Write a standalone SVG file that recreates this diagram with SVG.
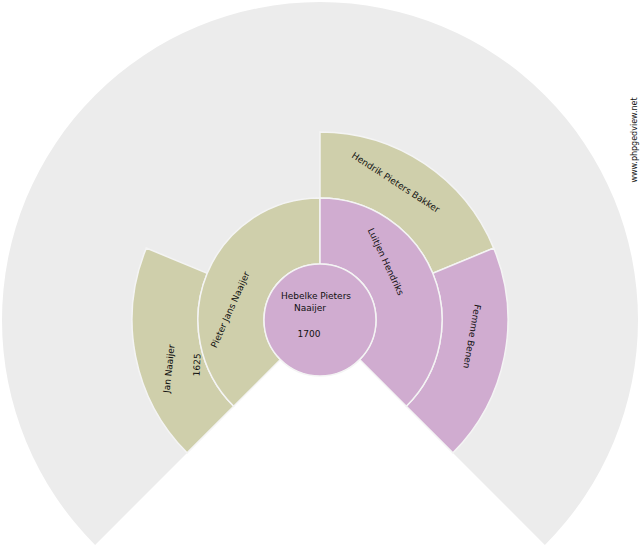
<svg xmlns="http://www.w3.org/2000/svg" width="640" height="550" viewBox="0 0 640 550">
<style>
.g{fill:#ececec}
.k{fill:#cfcfab;stroke:#f4f4f4;stroke-width:1.5}
.p{fill:#d0acd0;stroke:#f4f4f4;stroke-width:1.5}
text{font-family:"DejaVu Sans",sans-serif;font-size:9px;fill:#111;text-anchor:middle}
</style>
<rect width="640" height="550" fill="#fff"/>
<g id="background"><path class="g" d="M320,320 L95.1,544.9 A318,318 0 1 1 544.9,544.9 Z"/></g>
<g id="n-jan"><path class="k" d="M187.1,452.9 A188,188 0 0 1 146.3,248.1 L207.3,273.3 A122,122 0 0 0 233.7,406.3 Z"/>
<text transform="translate(172,369) rotate(-84)">Jan Naaijer</text>
<text transform="translate(200,365) rotate(-87)">1625</text></g>
<g id="n-hendrik"><path class="k" d="M320,132 A188,188 0 0 1 493.7,248.1 L432.7,273.3 A122,122 0 0 0 320,198 Z"/>
<text transform="translate(394,185) rotate(33)">Hendrik Pieters Bakker</text></g>
<g id="n-femme"><path class="p" d="M493.7,248.1 A188,188 0 0 1 452.9,452.9 L406.3,406.3 A122,122 0 0 0 432.7,273.3 Z"/>
<text transform="translate(469,336) rotate(100)">Femme Benen</text></g>
<g id="n-pieter"><path class="k" d="M233.7,406.3 A122,122 0 0 1 320,198 L320,264 A56,56 0 0 0 280.4,359.6 Z"/>
<text transform="translate(233,311) rotate(-66)">Pieter Jans Naaijer</text></g>
<g id="n-luitjen"><path class="p" d="M320,198 A122,122 0 0 1 406.3,406.3 L359.6,359.6 A56,56 0 0 0 320,264 Z"/>
<text transform="translate(383,263) rotate(65)">Luitjen Hendriks</text></g>
<g id="n-hebelke"><circle class="p" cx="320" cy="320" r="56"/>
<text x="316" y="299">Hebelke Pieters</text>
<text x="310" y="311">Naaijer</text>
<text x="309" y="337">1700</text></g>
<g id="connectors"></g>
<text transform="translate(637,140) rotate(-90)" style="font-size:8px">www.phpgedview.net</text>
</svg>
